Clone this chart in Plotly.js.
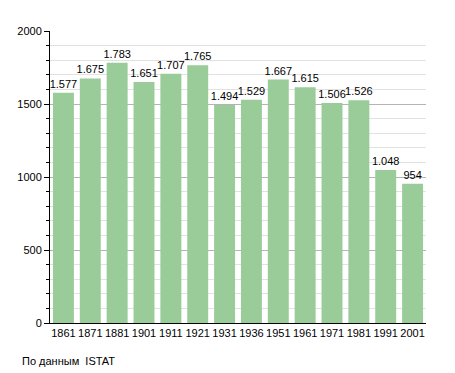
<!DOCTYPE html>
<html><head><meta charset="utf-8">
<script src="https://cdn.plot.ly/plotly-3.0.1.min.js"></script>
<style>body{margin:0;padding:0;background:#fff}#chart{width:455px;height:373px}</style>
</head><body><div id="chart"></div>
<script>
var years = ["1861","1871","1881","1901","1911","1921","1931","1936","1951","1961","1971","1981","1991","2001"];
var population = [1577,1675,1783,1651,1707,1765,1494,1529,1667,1615,1506,1526,1048,954];
var valueLabels = ["1.577","1.675","1.783","1.651","1.707","1.765","1.494","1.529","1.667","1.615","1.506","1.526","1.048","954"];
var sourceNote = "По данным  ISTAT";

var trace = {
  type: "bar", x: years, y: population, text: valueLabels,
  textposition: "outside", cliponaxis: false, constraintext: "none",
  textfont: {family: "Liberation Sans, Arial, sans-serif", size: 11, color: "#000"},
  marker: {color: "#99cc99"}, hoverinfo: "none"
};
var layout = {
  width: 455, height: 373,
  margin: {l: 50, r: 29, t: 31, b: 50},
  paper_bgcolor: "#fff", plot_bgcolor: "#fff",
  bargap: 0.22, showlegend: false,
  font: {family: "Liberation Sans, Arial, sans-serif", size: 11, color: "#000"},
  xaxis: {type: "category", showline: true, linecolor: "#000", linewidth: 1, ticks: "", showgrid: false,
          tickfont: {size: 11}},
  yaxis: {range: [0, 2000], dtick: 500, tick0: 0, showline: true, linecolor: "#000", linewidth: 1,
          ticks: "outside", ticklen: 5, tickcolor: "#000", gridcolor: "#b4b4b4", gridwidth: 1,
          zeroline: false, tickfont: {size: 11},
          minor: {dtick: 100, showgrid: true, gridcolor: "#e2e2e2", ticks: "outside", ticklen: 3, tickcolor: "#000"}},
  annotations: [{text: sourceNote, xref: "paper", yref: "paper", x: -30/376, y: -0.13,
                 xanchor: "left", yanchor: "middle", showarrow: false, font: {size: 11, color: "#000"}}]
};
Plotly.newPlot("chart", [trace], layout, {staticPlot: true, displayModeBar: false});
</script></body></html>
